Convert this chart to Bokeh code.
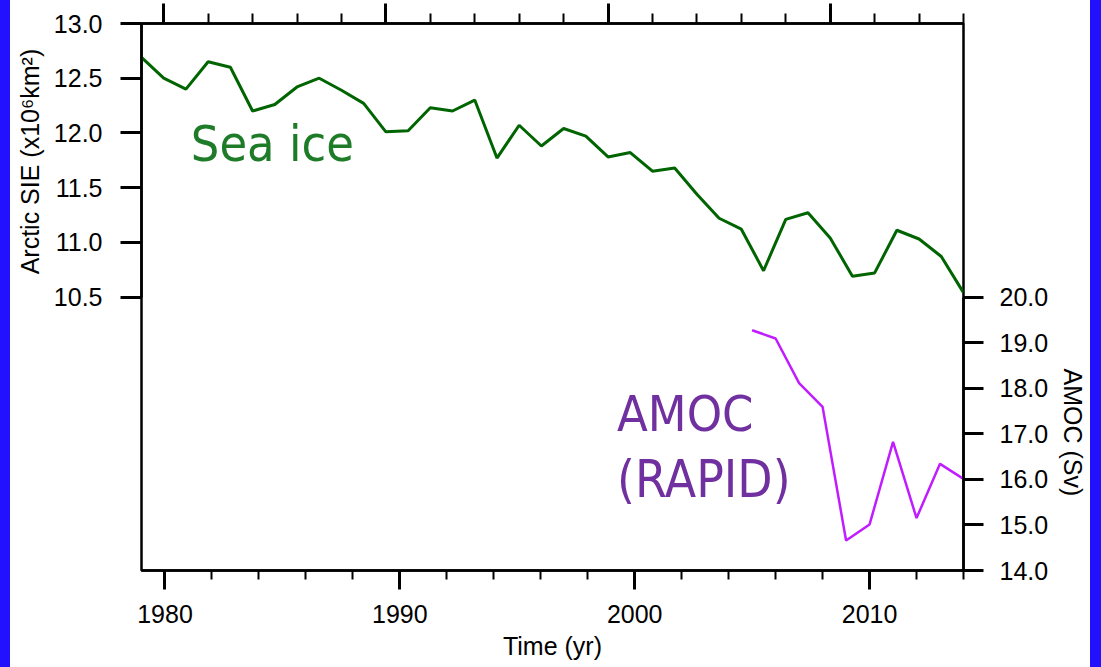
from bokeh.plotting import figure
from bokeh.layouts import row
from bokeh.models import (Range1d, LinearAxis, FixedTicker, SingleIntervalTicker,
                          PrintfTickFormatter, Label, ColumnDataSource, Spacer)
from bokeh.embed import file_html
from bokeh.resources import INLINE

# ---------------- data ----------------
ice_years = list(range(1979, 2017))
ice_extent = [12.69, 12.50, 12.40, 12.65, 12.60, 12.20, 12.26, 12.42, 12.50, 12.39,
              12.27, 12.01, 12.02, 12.23, 12.20, 12.30, 11.77, 12.07, 11.88, 12.04,
              11.97, 11.78, 11.82, 11.65, 11.68, 11.44, 11.22, 11.12, 10.74, 11.21,
              11.27, 11.04, 10.69, 10.72, 11.11, 11.03, 10.87, 10.54]

amoc_years = list(range(2005, 2015))
amoc_sv = [19.27, 19.09, 18.11, 17.59, 14.66, 15.01, 16.82, 15.15, 16.34, 16.01]

left_ticks = [10.5, 11.0, 11.5, 12.0, 12.5, 13.0]
right_ticks = [14.0, 15.0, 16.0, 17.0, 18.0, 19.0, 20.0]
top_major = [1980, 1990, 2000, 2010]

left_title = "Arctic SIE (x10\u2076km\u00b2)"
right_title = "AMOC (Sv)"
bottom_title = "Time (yr)"

# ---------------- styles ----------------
FONT = "Liberation Sans"
TICK_SIZE = "25px"
ICE_COLOR = "#006400"
AMOC_COLOR = "#c01cff"
ICE_TEXT = "#1e7b28"
AMOC_TEXT = "#7030a0"
ANN_FONT = "DejaVu Sans Condensed, DejaVu Sans"
BLUE = "#2211ff"
PAD = "\u00a0" * 39   # shifts the side titles onto the labelled part of each axis

p = figure(width=1080, height=667,
           x_range=Range1d(1979, 2014), y_range=Range1d(8.0, 13.0),
           output_backend="svg", toolbar_location=None,
           x_axis_location=None, y_axis_location=None,
           min_border_left=131, min_border_right=127,
           min_border_top=23, min_border_bottom=97)
p.extra_x_ranges = {"ice": Range1d(1979, 2016)}
p.extra_y_ranges = {"amoc": Range1d(14.0, 26.0)}
p.xgrid.visible = False
p.ygrid.visible = False
p.outline_line_color = "black"
p.outline_line_width = 2.5
p.background_fill_color = "white"
p.border_fill_color = "white"


def style_axis(ax, tick_out, minor_out=0):
    ax.axis_line_color = "black"
    ax.axis_line_width = 2.5
    ax.major_tick_line_color = "black"
    ax.major_tick_line_width = 3
    ax.major_tick_in = 0
    ax.major_tick_out = tick_out
    ax.minor_tick_line_color = "black" if minor_out else None
    ax.minor_tick_line_width = 2
    ax.minor_tick_in = 0
    ax.minor_tick_out = minor_out
    ax.major_label_text_font = FONT
    ax.major_label_text_font_size = TICK_SIZE
    ax.major_label_text_color = "black"
    ax.axis_label_text_font = FONT
    ax.axis_label_text_font_size = TICK_SIZE
    ax.axis_label_text_font_style = "normal"
    ax.axis_label_text_color = "black"


left = LinearAxis(ticker=FixedTicker(ticks=left_ticks),
                  formatter=PrintfTickFormatter(format="%.1f"),
                  bounds=(left_ticks[0], left_ticks[-1]),
                  axis_label=PAD + left_title)
style_axis(left, 21)
left.major_label_standoff = 18
left.axis_label_standoff = 7
p.add_layout(left, "left")

right = LinearAxis(y_range_name="amoc", ticker=FixedTicker(ticks=right_ticks),
                   formatter=PrintfTickFormatter(format="%.1f"),
                   bounds=(right_ticks[0], right_ticks[-1]),
                   axis_label=PAD + right_title)
style_axis(right, 20)
right.major_label_standoff = 16
right.axis_label_standoff = 8
p.add_layout(right, "right")

bottom = LinearAxis(ticker=SingleIntervalTicker(interval=10, num_minor_ticks=5),
                    axis_label=bottom_title)
style_axis(bottom, 19, 9)
bottom.major_label_standoff = 15
bottom.axis_label_standoff = 6
p.add_layout(bottom, "below")

top = LinearAxis(x_range_name="ice", ticker=SingleIntervalTicker(interval=10, num_minor_ticks=5))
style_axis(top, 20, 10)
top.major_label_overrides = {t: "" for t in top_major}
top.major_label_text_font_size = "0px"
top.major_label_standoff = 0
p.add_layout(top, "above")

# ---------------- lines ----------------
ice_src = ColumnDataSource(dict(x=ice_years, y=ice_extent))
amoc_src = ColumnDataSource(dict(x=amoc_years, y=amoc_sv))
p.line("x", "y", source=ice_src, x_range_name="ice", line_color=ICE_COLOR, line_width=3)
p.line("x", "y", source=amoc_src, y_range_name="amoc", line_color=AMOC_COLOR, line_width=2.5)

# ---------------- annotations (y = middle of text) ----------------
p.add_layout(Label(x=1981.1, y=11.894, text="Sea ice", text_font=ANN_FONT,
                   text_font_size="50px", text_color=ICE_TEXT, text_baseline="middle"))
p.add_layout(Label(x=1999.25, y=9.426, text="AMOC", text_font=ANN_FONT,
                   text_font_size="50px", text_color=AMOC_TEXT, text_baseline="middle"))
p.add_layout(Label(x=1999.25, y=8.832, text="(RAPID)", text_font=ANN_FONT,
                   text_font_size="51px", text_color=AMOC_TEXT, text_baseline="middle"))

left_strip = Spacer(width=10, height=667, styles={"background-color": BLUE})
right_strip = Spacer(width=11, height=667, styles={"background-color": BLUE})
layout = row(left_strip, p, right_strip, spacing=0)

open("out.html", "w").write(file_html(layout, INLINE))
